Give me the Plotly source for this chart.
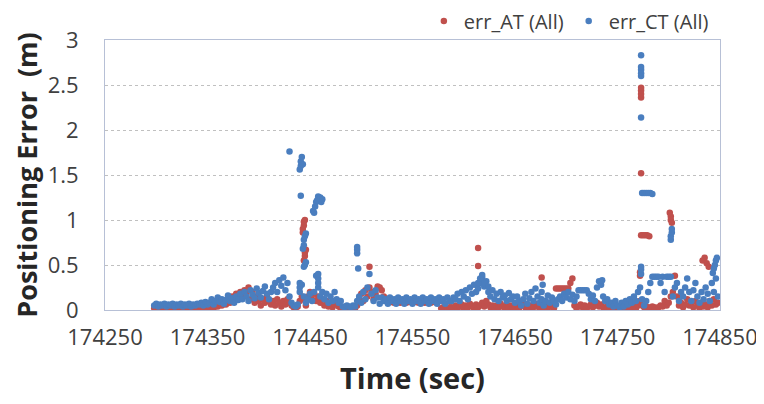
import plotly.graph_objects as go

# ---- data ----
TIME = list(range(174298, 174850, 2))  # 2-second sampling, 276 epochs

# err_CT (blue), one value per epoch of TIME
CT_ERR = [
    0.05, 0.07, 0.04, 0.06, 0.05, 0.07, 0.04, 0.06, 0.05, 0.07,
    0.04, 0.06, 0.05, 0.07, 0.04, 0.06, 0.05, 0.07, 0.04, 0.06,
    0.05, 0.07, 0.06, 0.08, 0.05, 0.09, 0.06,
    0.08, 0.12, 0.06, 0.10, 0.14, 0.09, 0.12, 0.07, 0.11, 0.16,
    0.10, 0.13, 0.08, 0.15, 0.11, 0.18,
    0.12, 0.20, 0.15, 0.10, 0.22, 0.17, 0.13, 0.24, 0.19, 0.14,
    0.21, 0.26, 0.18, 0.12, 0.20,
    0.25, 0.30, 0.20, 0.33, 0.27, 0.36, 0.22, 0.30, 0.15, 0.08,
    0.05, 0.04, 0.06, 0.20, 0.28,
    0.15, 0.08, 0.12, 0.18, 0.10,
    0.20, 0.38, 0.25, 0.15, 0.20,
    0.12, 0.18, 0.08, 0.15, 0.10, 0.20, 0.12, 0.08, 0.10,
    0.04, 0.03, 0.05, 0.04, 0.03, 0.05, 0.04,
    0.10, 0.15, 0.08, 0.20, 0.12, 0.25, 0.40, 0.18, 0.10, 0.22, 0.14,
    0.07, 0.14, 0.10, 0.12, 0.07, 0.14, 0.10, 0.12, 0.07, 0.14,
    0.10, 0.12, 0.07, 0.14, 0.10, 0.12, 0.07, 0.14, 0.10, 0.12,
    0.07, 0.14, 0.10, 0.12, 0.07, 0.14, 0.10, 0.12, 0.07, 0.14,
    0.10, 0.12, 0.07, 0.14, 0.10,
    0.10, 0.14, 0.12, 0.18, 0.10, 0.20, 0.15, 0.22, 0.12, 0.25,
    0.18, 0.28, 0.20, 0.24, 0.30,
    0.36, 0.26, 0.32, 0.20, 0.15, 0.22,
    0.12, 0.18, 0.10, 0.20, 0.14, 0.16, 0.10, 0.19, 0.12, 0.15,
    0.08, 0.15, 0.10, 0.05, 0.12, 0.18, 0.07, 0.13, 0.20, 0.10,
    0.24, 0.15, 0.08, 0.12, 0.05, 0.10, 0.16, 0.08, 0.14, 0.10,
    0.06, 0.12,
    0.15, 0.10, 0.18, 0.14, 0.20, 0.12, 0.17, 0.10, 0.15, 0.22,
    0.22, 0.22, 0.22, 0.22, 0.18, 0.12, 0.16, 0.10, 0.25, 0.32,
    0.28, 0.15, 0.10, 0.12, 0.06, 0.08, 0.04, 0.10, 0.05, 0.03,
    0.08, 0.04, 0.10, 0.06, 0.12, 0.08, 0.15, 0.10, 0.20,
    0.25, 0.12, 0.05, 0.10, 0.20, 0.30, 0.37, 0.37, 0.37, 0.37,
    0.30,
    0.37, 0.20, 0.37, 0.37, 0.37, 0.15, 0.25, 0.30, 0.10, 0.20,
    0.15, 0.25, 0.35, 0.20, 0.10, 0.22, 0.30, 0.15, 0.08, 0.20,
    0.12, 0.25, 0.18, 0.10, 0.30, 0.20, 0.35, 0.15,
]

# err_AT (red), one value per epoch of TIME
AT_ERR = [
    0.02, 0.01, 0.03, 0.02, 0.01, 0.03, 0.02, 0.01, 0.03, 0.02,
    0.01, 0.03, 0.02, 0.01, 0.03, 0.02, 0.01, 0.03, 0.02, 0.01,
    0.03, 0.02, 0.01, 0.03, 0.02, 0.04, 0.02,
    0.03, 0.05, 0.02, 0.06, 0.04, 0.08, 0.05, 0.10, 0.06, 0.12,
    0.08, 0.15, 0.10, 0.18, 0.12, 0.20,
    0.15, 0.22, 0.18, 0.25, 0.12, 0.20, 0.08, 0.15, 0.10, 0.05,
    0.12, 0.08, 0.15, 0.10, 0.06,
    0.10, 0.05, 0.12, 0.08, 0.04, 0.10, 0.06, 0.12, 0.08, 0.05,
    0.03, 0.02, 0.04, 0.10, 0.15,
    0.12, 0.05, 0.15, 0.20, 0.12,
    0.18, 0.10, 0.15, 0.08, 0.12,
    0.05, 0.10, 0.04, 0.08, 0.03, 0.06, 0.10, 0.04, 0.02,
    0.02, 0.01, 0.02, 0.01, 0.02, 0.01, 0.02,
    0.05, 0.12, 0.18, 0.10, 0.22, 0.15, 0.25, 0.20, 0.12, 0.18, 0.26,
    0.25, 0.22, 0.15, 0.10, 0.08, 0.10, 0.09, 0.08, 0.10, 0.09,
    0.08, 0.10, 0.09, 0.08, 0.10, 0.09, 0.08, 0.10, 0.09, 0.08,
    0.10, 0.09, 0.08, 0.10, 0.09, 0.08, 0.10, 0.09, 0.08, 0.10,
    0.02, 0.03, 0.01, 0.02, 0.03,
    0.03, 0.01, 0.05, 0.02, 0.04, 0.06, 0.02, 0.05, 0.03, 0.07,
    0.04, 0.02, 0.06, 0.03, 0.05,
    0.08, 0.04, 0.10, 0.06, 0.03, 0.05,
    0.02, 0.05, 0.03, 0.07, 0.04, 0.02, 0.06, 0.03, 0.05, 0.02,
    0.03, 0.06, 0.02, 0.05, 0.08, 0.03, 0.06, 0.02, 0.05, 0.03,
    0.07, 0.04, 0.02, 0.06, 0.03, 0.05, 0.02, 0.04, 0.06, 0.02,
    0.24, 0.24,
    0.24, 0.24, 0.24, 0.24, 0.24, 0.30, 0.35, 0.05, 0.02, 0.04,
    0.06, 0.03, 0.05, 0.02, 0.04, 0.06, 0.03, 0.05, 0.08, 0.04,
    0.06, 0.03, 0.02, 0.04, 0.02, 0.01, 0.03, 0.02, 0.01, 0.02,
    0.03, 0.01, 0.02, 0.01, 0.03, 0.02, 0.04, 0.02, 0.05,
    0.10, 0.05, 0.03, 0.04, 0.02, 0.03, 0.04, 0.03, 0.02, 0.03,
    0.05,
    0.04, 0.10, 0.05, 0.08, 0.15, 0.20, 0.38, 0.15, 0.05, 0.08,
    0.03, 0.06, 0.12, 0.05, 0.08, 0.03, 0.10, 0.05, 0.02, 0.08,
    0.04, 0.06, 0.03, 0.10, 0.05, 0.12, 0.06, 0.08,
]

# isolated spikes / extra epochs
CT_EXTRA_T = [174430, 174440, 174441, 174441, 174442, 174443, 174441,
              174443, 174444, 174444, 174445, 174446, 174444, 174445, 174446,
              174453, 174454, 174455, 174456, 174457, 174458, 174459, 174460, 174461, 174462,
              174458, 174458, 174458, 174440, 174440,
              174496, 174496, 174496, 174497,
              174614, 174616, 174618, 174620, 174624, 174676, 174677, 174735,
              174773, 174773, 174773, 174773, 174773, 174773,
              174774, 174776, 174778, 174780, 174782, 174784,
              174773, 174773, 174773,
              174802, 174802, 174803, 174803,
              174843, 174844, 174845, 174846, 174847]
CT_EXTRA_V = [1.76, 1.56, 1.60, 1.65, 1.70, 1.62, 1.27,
              0.68, 0.72, 0.78, 0.82, 0.85, 0.48, 0.50, 0.53,
              1.10, 1.08, 1.15, 1.20, 1.22, 1.26, 1.24, 1.25, 1.20, 1.23,
              0.30, 0.35, 0.40, 0.25, 0.30,
              0.63, 0.67, 0.70, 0.46,
              0.30, 0.35, 0.39, 0.30, 0.26, 0.20, 0.28, 0.33,
              2.83, 2.60, 2.63, 2.67, 2.70, 2.14,
              1.30, 1.30, 1.30, 1.30, 1.30, 1.29,
              0.40, 0.45, 0.48,
              0.78, 0.82, 0.86, 0.90,
              0.41, 0.46, 0.50, 0.55, 0.58]

AT_EXTRA_T = [174443, 174443, 174444, 174444, 174445,
              174444, 174445, 174445, 174446,
              174508, 174614, 174614, 174676,
              174773, 174773, 174773, 174773, 174773,
              174773, 174775, 174777, 174779, 174781,
              174772, 174772,
              174801, 174802, 174802, 174803,
              174833, 174835, 174837, 174839]
AT_EXTRA_V = [0.86, 0.90, 0.94, 0.98, 1.00,
              0.55, 0.60, 0.64, 0.67,
              0.48, 0.69, 0.49, 0.36,
              2.36, 2.40, 2.44, 2.47, 1.52,
              0.83, 0.83, 0.83, 0.83, 0.82,
              0.38, 0.42,
              1.08, 1.04, 1.00, 0.97,
              0.55, 0.58, 0.52, 0.48]

X_TICKS = [174250, 174350, 174450, 174550, 174650, 174750, 174850]
Y_TICKS = [0, 0.5, 1, 1.5, 2, 2.5, 3]
Y_TICK_TEXT = ["0", "0.5", "1", "1.5", "2", "2.5", "3"]

RED = "#c0504d"
BLUE = "#4a7ebf"
FONT = "Open Sans"
TXT = "#404040"

fig = go.Figure()
fig.add_trace(go.Scatter(
    x=TIME + AT_EXTRA_T, y=AT_ERR + AT_EXTRA_V, mode="markers",
    name="err_AT (All)", marker=dict(color=RED, size=6.5, line=dict(width=0)),
))
fig.add_trace(go.Scatter(
    x=TIME + CT_EXTRA_T, y=CT_ERR + CT_EXTRA_V, mode="markers",
    name="err_CT (All)", marker=dict(color=BLUE, size=6.5, line=dict(width=0)),
))

# The page body adds an 8 px offset, so the figure is 8 px smaller than the window.
fig.update_layout(
    width=756, height=396,
    margin=dict(l=97, r=44, t=32, b=94, autoexpand=False),
    paper_bgcolor="white", plot_bgcolor="white",
    font=dict(family=FONT, color=TXT),
    showlegend=True,
    legend=dict(orientation="h", x=0.99, xanchor="right", y=1.07, yanchor="middle",
                font=dict(size=20, color=TXT), itemwidth=30, bgcolor="rgba(0,0,0,0)",
                tracegroupgap=0),
    xaxis=dict(
        range=[174250, 174850], tickmode="array", tickvals=X_TICKS,
        ticktext=[str(v) for v in X_TICKS], tickfont=dict(size=22, color=TXT),
        ticklabelstandoff=8,
        showgrid=False, zeroline=False, showline=True, mirror=True,
        linecolor="#b7c0d6", linewidth=1, ticks="",
        title=dict(text="<b>Time (sec)</b>", font=dict(size=29, color="#262626"), standoff=18),
    ),
    yaxis=dict(
        range=[0, 3], tickmode="array", tickvals=Y_TICKS, ticktext=Y_TICK_TEXT,
        tickfont=dict(size=22, color=TXT), ticklabelstandoff=21,
        showgrid=True, gridcolor="#c0c0c0", griddash="dot", gridwidth=1,
        zeroline=False, showline=True, mirror=True,
        linecolor="#b7c0d6", linewidth=1, ticks="",
        title=dict(text="<b>Positioning Error  (m)</b>", font=dict(size=27, color="#262626"), standoff=6),
    ),
)

fig.write_html("out.html")
